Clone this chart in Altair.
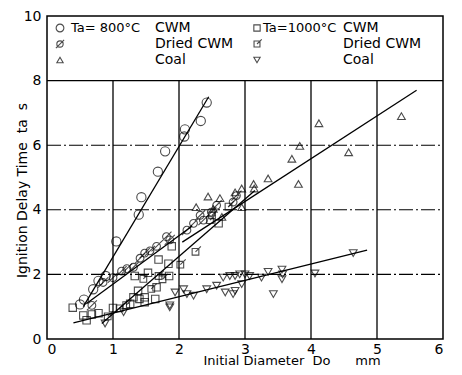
import altair as alt
import pandas as pd

# ---------------- data ----------------
# Ta = 800 C
cwm800_x = [0.50, 0.56, 0.70, 0.78, 0.89, 1.05, 1.39, 1.43, 1.68, 1.79, 2.08, 2.09, 2.33, 2.42]
cwm800_y = [1.07, 1.22, 1.54, 1.80, 1.95, 3.02, 3.85, 4.39, 5.18, 5.81, 6.27, 6.49, 6.75, 7.32]

dried800_x = [0.68, 0.85, 1.00, 1.13, 1.21, 1.31, 1.41, 1.48, 1.56, 1.66, 1.81, 1.86,
              2.12, 2.22, 2.32, 2.37, 2.49, 2.57, 2.82, 2.87]
dried800_y = [1.04, 1.75, 1.90, 2.10, 2.18, 2.22, 2.50, 2.66, 2.73, 2.87, 3.17, 3.07,
              3.37, 3.58, 3.83, 3.68, 3.93, 4.14, 4.24, 4.44]

coal800_x = [2.26, 2.44, 2.52, 2.62, 2.65, 2.85, 2.95, 2.95, 3.13, 3.14, 3.35, 3.71,
             3.81, 3.83, 4.12, 4.57, 5.37]
coal800_y = [4.08, 4.41, 4.03, 4.36, 3.78, 4.54, 4.66, 4.08, 4.80, 4.66, 4.97, 5.58,
             4.80, 5.98, 6.68, 5.78, 6.90]

# Ta = 1000 C
cwm1000_x = [0.39, 0.55, 0.60, 0.68, 0.78, 1.00, 1.26, 1.31, 1.38, 1.40, 1.48, 1.48,
             1.64, 1.53, 1.66, 1.33, 1.69, 1.84, 1.85, 1.89, 2.60]
cwm1000_y = [0.97, 0.73, 0.58, 0.76, 0.80, 0.96, 1.09, 1.29, 1.49, 1.24, 1.29, 1.14,
             1.24, 2.05, 1.60, 1.95, 2.46, 2.33, 1.95, 2.87, 3.58]

dried1000_x = [0.92, 1.10, 1.20, 1.46, 1.58, 1.69, 1.75, 2.02, 2.25, 2.47, 2.50, 2.75]
dried1000_y = [0.70, 0.95, 1.05, 1.86, 1.55, 1.95, 1.85, 2.30, 2.70, 3.68, 3.83, 4.10]

coal1000_x = [0.88, 1.16, 1.86, 1.86, 1.94, 2.07, 2.12, 2.22, 2.42, 2.57, 2.67, 2.70,
              2.77, 2.82, 2.85, 2.85, 2.92, 2.95, 3.00, 3.07, 3.25, 3.35, 3.43, 3.56,
              3.57, 3.56, 4.06, 4.64]
coal1000_y = [0.48, 0.83, 1.04, 0.98, 1.44, 1.54, 1.39, 1.34, 1.54, 1.65, 1.90, 1.44,
              1.95, 1.39, 1.95, 1.49, 2.00, 1.70, 2.00, 1.95, 1.90, 2.08, 1.39, 2.15,
              2.00, 1.85, 2.03, 2.66]

# fitted lines (end points)
fit_id = ["a", "a", "b", "b", "c", "c", "d", "d", "e", "e"]
fit_x = [0.55, 2.45, 0.60, 2.20, 2.05, 5.60, 0.83, 3.15, 0.40, 4.85]
fit_y = [1.00, 7.50, 1.10, 3.50, 3.00, 7.70, 0.48, 4.60, 0.50, 2.75]

# grid
grid_vx = [1, 2, 3, 4, 5]
grid_dash_y = [2, 4, 6]
grid_solid_y = [8]

# ---------------- chart ----------------
FONT = "DejaVu Sans"
NB = "\u00a0"
xscale = alt.Scale(domain=[0, 6], nice=False, zero=False)
yscale = alt.Scale(domain=[0, 10], nice=False, zero=False)

xaxis = alt.Axis(values=[0, 1, 2, 3, 4, 5, 6], format="d", ticks=False, grid=False, domain=False,
                 labelFontSize=14, labelFont=FONT, labelColor="black", labelPadding=3,
                 title=f"Initial Diameter{NB}{NB}Do{NB*6}mm", titleFont=FONT, titleFontSize=13,
                 titleFontWeight="normal", titleColor="black", titleAlign="left",
                 titleAnchor="start", titleX=156, titleY=25, titleBaseline="alphabetic")
yaxis = alt.Axis(values=[0, 2, 4, 6, 8, 10], format="d", ticks=False, grid=False, domain=False,
                 labelFontSize=14, labelFont=FONT, labelColor="black", labelPadding=6,
                 title=f"Ignition Delay Time{NB}{NB}ta{NB}{NB}s", titleFont=FONT, titleFontSize=14,
                 titleFontWeight="normal", titleColor="black", titleX=-25, titleY=174,
                 titleAngle=-90, titleAlign="center", titleBaseline="middle")

X = alt.X("x:Q", scale=xscale, axis=xaxis)
Y = alt.Y("y:Q", scale=yscale, axis=yaxis)


def df(x, y):
    return pd.DataFrame({"x": x, "y": y})


vgrid = alt.Chart(pd.DataFrame({"x": grid_vx, "y": [0] * len(grid_vx), "y2": [8] * len(grid_vx)})).mark_rule(
    color="black", strokeWidth=1.3).encode(x=X, y=Y, y2="y2:Q")
hdash = alt.Chart(pd.DataFrame({"y": grid_dash_y, "x": [0] * 3, "x2": [6] * 3})).mark_rule(
    color="black", strokeWidth=1.1, strokeDash=[14, 3, 2, 3]).encode(x=X, x2="x2:Q", y=Y)
hsolid = alt.Chart(pd.DataFrame({"y": grid_solid_y, "x": [0], "x2": [6]})).mark_rule(
    color="black", strokeWidth=1.3).encode(x=X, x2="x2:Q", y=Y)

fits = alt.Chart(pd.DataFrame({"id": fit_id, "x": fit_x, "y": fit_y})).mark_line(
    color="black", strokeWidth=1.3).encode(x=X, y=Y, detail="id:N")

CIRC_SLASH = "M1,0A1,1 0 1,1 -1,0A1,1 0 1,1 1,0Z M-1.3,1.3L1.3,-1.3"
SQ_TAIL = "M-1,-1H1V1H-1Z M0,0L1.6,-1.6"
TRI_DOWN = "triangle-down"

pt = dict(filled=False, color="black", strokeWidth=1.1)


def pts(x, y, shape, size):
    return alt.Chart(df(x, y)).mark_point(shape=shape, size=size, **pt).encode(x=X, y=Y)


layers = [
    vgrid, hdash, hsolid, fits,
    pts(cwm800_x, cwm800_y, "circle", 85),
    pts(dried800_x, dried800_y, CIRC_SLASH, 60),
    pts(coal800_x, coal800_y, "triangle-up", 60),
    pts(cwm1000_x, cwm1000_y, "square", 55),
    pts(dried1000_x, dried1000_y, SQ_TAIL, 45),
    pts(coal1000_x, coal1000_y, TRI_DOWN, 60),
]

# legend (inside top band of the plot)
one = pd.DataFrame({"a": [0]})
rows = [12, 28, 44]
col1_m, col1_t, col1_t2 = 13, 24, 108
col2_m, col2_t, col2_t2 = 210, 216, 296
leg_marks = [
    ("circle", 60, col1_m, rows[0]),
    (CIRC_SLASH, 40, col1_m, rows[1]),
    ("triangle-up", 40, col1_m, rows[2]),
    ("square", 40, col2_m, rows[0]),
    (SQ_TAIL, 35, col2_m, rows[1]),
    (TRI_DOWN, 40, col2_m, rows[2]),
]
for shape, size, mx, my in leg_marks:
    layers.append(alt.Chart(one).mark_point(shape=shape, size=size, **pt).encode(
        x=alt.value(mx), y=alt.value(my)))

leg_texts = [
    ("Ta= 800°C", col1_t, rows[0], 13),
    ("CWM", col1_t2, rows[0], 14),
    ("Dried CWM", col1_t2, rows[1], 14),
    ("Coal", col1_t2, rows[2], 14),
    ("Ta=1000°C", col2_t, rows[0], 13),
    ("CWM", col2_t2, rows[0], 14),
    ("Dried CWM", col2_t2, rows[1], 14),
    ("Coal", col2_t2, rows[2], 14),
]
for txt, tx, ty, fs in leg_texts:
    layers.append(alt.Chart(one).mark_text(text=txt, align="left", baseline="middle", font=FONT,
                                           fontSize=fs, color="black").encode(
        x=alt.value(tx), y=alt.value(ty)))

chart = alt.layer(*layers).properties(
    width=396, height=323,
    autosize=alt.AutoSizeParams(type="none"),
    padding={"left": 39, "top": 8, "right": 11, "bottom": 28},
    background="white",
).configure_view(stroke="black", strokeWidth=1.5)

chart.save("out.html", embed_options={"renderer": "svg", "actions": False})
